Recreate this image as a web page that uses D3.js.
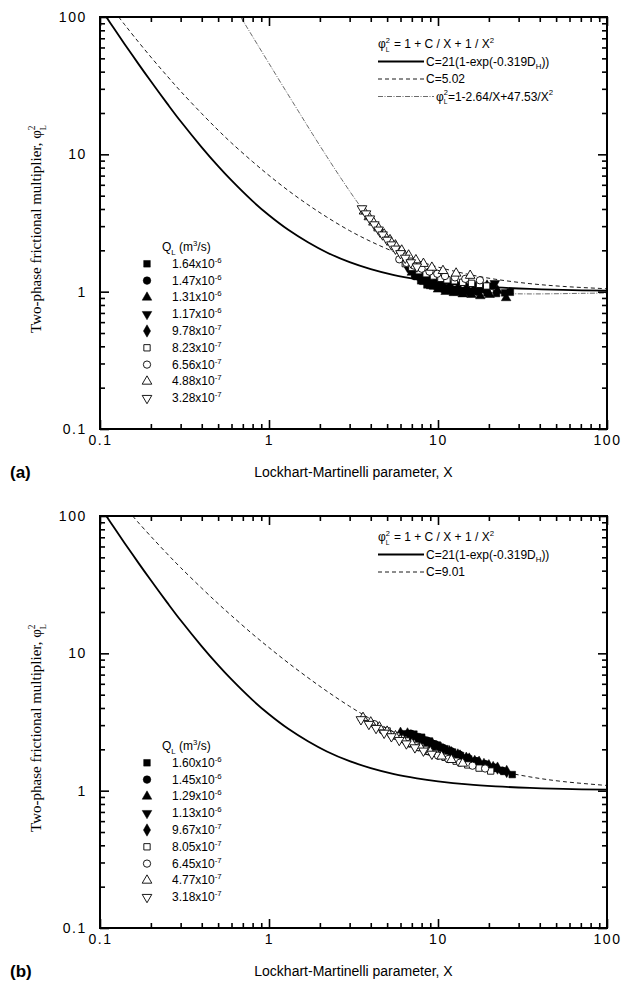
<!DOCTYPE html>
<html><head><meta charset="utf-8">
<script src="https://cdn.jsdelivr.net/npm/d3@7"></script>
<style>body{margin:0;background:#fff} text{white-space:pre}</style>
</head><body>
<svg id="c" width="622" height="986" xmlns="http://www.w3.org/2000/svg"></svg>
<script>
// ---------------- data ----------------
const xMajor = [0.1, 1, 10, 100];
const yMajor = [0.1, 1, 10, 100];
const tickLabels = ["0.1", "1", "10", "100"];

// curves: [X, phi^2]
const solidA = [[0.109,100],[0.12,83.8],[0.14,63.4],[0.17,45.0],[0.2,34.0],[0.25,23.4],[0.3,17.4],[0.4,11.25],[0.5,8.2],[0.6,6.45],[0.8,4.56],[1,3.6],[1.3,2.82],[1.7,2.29],[2.2,1.93],[3,1.64],[4,1.46],[5.5,1.32],[7.5,1.23],[10,1.17],[15,1.11],[22,1.075],[35,1.047],[55,1.029],[100,1.016]];
const dashedA = [[0.129,100],[0.14,87.9],[0.16,71.4],[0.2,51.1],[0.25,37.1],[0.3,28.8],[0.4,19.8],[0.5,15.0],[0.6,12.1],[0.8,8.84],[1,7.02],[1.3,5.45],[1.7,4.30],[2.2,3.49],[3,2.78],[4,2.32],[5.5,1.95],[7.5,1.69],[10,1.51],[15,1.34],[22,1.23],[35,1.144],[55,1.092],[100,1.05]];
const dashdotA = [[0.68,100],[0.75,82.0],[0.85,63.7],[1,45.9],[1.2,31.8],[1.5,20.4],[1.8,14.2],[2.2,9.62],[2.7,6.54],[3.3,4.56],[4,3.31],[5,2.37],[6,1.88],[7.5,1.49],[9,1.29],[11,1.153],[14,1.054],[18,1.0],[25,0.970],[35,0.963],[50,0.966],[70,0.972],[100,0.978]];
const solidB = [[0.109,100],[0.12,83.8],[0.14,63.4],[0.17,45.0],[0.2,34.0],[0.25,23.4],[0.3,17.4],[0.4,11.25],[0.5,8.2],[0.6,6.45],[0.8,4.56],[1,3.6],[1.3,2.82],[1.7,2.29],[2.2,1.93],[3,1.64],[4,1.46],[5.5,1.32],[7.5,1.23],[10,1.17],[15,1.11],[22,1.075],[35,1.047],[55,1.029],[100,1.016]];
const dashedB = [[0.156,100],[0.17,88.6],[0.2,71.05],[0.25,53.0],[0.3,42.1],[0.4,29.8],[0.5,23.0],[0.6,18.8],[0.8,13.8],[1,11.01],[1.3,8.52],[1.7,6.65],[2.2,5.30],[3,4.11],[4,3.32],[5.5,2.67],[7.5,2.22],[10,1.91],[15,1.605],[22,1.41],[35,1.26],[55,1.165],[100,1.091]];

// legend labels
const qA = ["1.64","1.47","1.31","1.17","9.78","8.23","6.56","4.88","3.28"];
const qB = ["1.60","1.45","1.29","1.13","9.67","8.05","6.45","4.77","3.18"];
const qExp = ["-6","-6","-6","-6","-7","-7","-7","-7","-7"];

// panel (a) measured points [X, phi^2]
const a1 = [[7.9,1.2],[8.6,1.12],[9.3,1.1],[10.1,1.06],[10.9,1.04],[11.8,1.02],[12.8,1.0],[14.1,0.98],[15.6,0.99],[17.3,1.0],[19.5,0.98],[22.2,0.97],[24.8,0.98],[26.8,0.99]];
const a2 = [[7.3,1.3],[8.0,1.22],[8.8,1.15],[9.7,1.1],[10.6,1.07],[11.6,1.05],[12.9,1.03],[14.5,1.02],[16.4,1.02],[18.6,1.04],[21.0,1.1]];
const a3 = [[7.0,1.38],[7.6,1.28],[8.3,1.18],[9.1,1.1],[10.0,1.04],[11.1,1.0],[12.4,0.98],[14.0,0.96],[15.8,0.95],[17.8,0.93],[20.2,0.95],[22.5,1.02],[25.3,0.9]];
const a4 = [[6.8,1.45],[7.4,1.35],[8.1,1.25],[8.9,1.17],[9.8,1.12],[10.8,1.08],[12.0,1.05],[13.4,1.03],[15.0,1.02],[17.0,1.02],[19.2,1.05],[21.7,1.15]];
const a5 = [[6.6,1.52],[7.2,1.42],[7.9,1.32],[8.7,1.24],[9.6,1.17],[10.6,1.12],[11.8,1.09],[13.2,1.07],[14.8,1.06],[16.8,1.08],[19.5,1.1]];
const a6 = [[6.4,1.6],[7.0,1.5],[7.7,1.42],[8.5,1.35],[9.4,1.3],[10.4,1.25],[11.3,1.22],[12.5,1.2],[14.0,1.17],[15.8,1.15],[17.6,1.13],[19.4,1.1]];
const a7 = [[5.9,1.72],[6.5,1.62],[7.2,1.55],[8.0,1.47],[8.9,1.4],[9.9,1.35],[11.0,1.3],[12.6,1.27],[14.5,1.24],[17.7,1.21]];
const a8 = [[3.65,3.85],[3.9,3.5],[4.15,3.2],[4.45,2.9],[4.8,2.62],[5.2,2.38],[5.6,2.18],[6.1,2.0],[6.7,1.84],[7.4,1.7],[8.2,1.6],[9.2,1.5],[10.7,1.42],[12.8,1.36],[15.5,1.31]];
const a9 = [[3.55,4.03],[3.75,3.7],[3.95,3.4],[4.2,3.08],[4.45,2.82],[4.7,2.6],[5.0,2.38],[5.3,2.2],[5.6,2.05],[6.0,1.9],[6.4,1.76],[6.9,1.63],[7.5,1.52]];

// panel (b) measured points [X, phi^2]
const b1 = [[7.2,2.58],[8.0,2.45],[8.9,2.3],[9.9,2.15],[11.0,2.02],[12.2,1.91],[13.6,1.8],[15.2,1.7],[17.0,1.61],[19.2,1.53],[21.7,1.45],[24.5,1.38],[27.5,1.31]];
const b2 = [[6.9,2.6],[7.7,2.46],[8.6,2.32],[9.6,2.18],[10.7,2.05],[12.0,1.93],[13.4,1.83],[15.0,1.73],[16.8,1.64],[19.0,1.56],[21.5,1.47],[24.0,1.4]];
const b3 = [[6.6,2.62],[7.4,2.48],[8.3,2.33],[9.3,2.19],[10.4,2.06],[11.7,1.94],[13.1,1.84],[14.7,1.74],[16.5,1.65],[18.7,1.57],[21.2,1.49]];
const b4 = [[6.3,2.62],[7.1,2.48],[8.0,2.34],[9.0,2.2],[10.1,2.07],[11.4,1.95],[12.8,1.85],[14.4,1.75],[16.3,1.66],[18.5,1.57],[20.8,1.49]];
const b5 = [[6.0,2.62],[6.8,2.48],[7.6,2.36],[8.5,2.23],[9.5,2.1],[10.7,1.99],[12.0,1.89],[13.5,1.79],[15.3,1.7],[17.5,1.61],[20.0,1.52],[22.5,1.46],[25.5,1.38]];
const b6 = [[5.0,2.72],[5.7,2.5],[6.5,2.3],[7.4,2.14],[8.4,2.0],[9.6,1.87],[11.0,1.75],[12.8,1.64],[15.0,1.54],[17.5,1.46],[20.5,1.39]];
const b7 = [[4.2,3.05],[4.7,2.75],[5.3,2.55],[6.0,2.38],[6.8,2.2],[7.7,2.07],[8.8,1.93],[10.0,1.8],[11.5,1.7],[13.5,1.6],[16.0,1.52],[19.0,1.45]];
const b8 = [[3.6,3.4],[4.0,3.15],[4.5,2.9],[5.0,2.7],[5.6,2.5],[6.2,2.35],[7.0,2.2],[7.9,2.05],[9.0,1.92],[10.5,1.78],[12.0,1.68],[14.0,1.58]];
const b9 = [[3.5,3.3],[3.9,3.05],[4.3,2.85],[4.8,2.63],[5.3,2.48],[5.9,2.33],[6.5,2.2],[7.3,2.06],[8.2,1.95],[9.2,1.85]];

// ---------------- drawing ----------------
const svg = d3.select("#c");
const FONT = "Arial, 'Liberation Sans', Helvetica, sans-serif";
const SERIF = "'Times New Roman', 'Liberation Serif', serif";

const markerDefs = [
  {type: d3.symbolSquare, size: 44, fill: "#000", rot: 0},
  {type: d3.symbolCircle, size: 46, fill: "#000", rot: 0},
  {type: d3.symbolTriangle, size: 40, fill: "#000", rot: 0},
  {type: d3.symbolTriangle, size: 40, fill: "#000", rot: 180},
  {type: d3.symbolDiamond, size: 44, fill: "#000", rot: 0},
  {type: d3.symbolSquare, size: 40, fill: "#fff", rot: 0},
  {type: d3.symbolCircle, size: 42, fill: "#fff", rot: 0},
  {type: d3.symbolTriangle, size: 40, fill: "#fff", rot: 0},
  {type: d3.symbolTriangle, size: 40, fill: "#fff", rot: 180}
];

function rich(g, x, y, parts, fs, family) {
  let cx = x;
  for (const p of parts) {
    if (p.stack) {
      const t1 = g.append("text").attr("x", cx).attr("y", y - fs * 0.42)
        .style("font-family", family).style("font-size", (fs * 0.62) + "px").text(p.stack[0]);
      const t2 = g.append("text").attr("x", cx).attr("y", y + fs * 0.3)
        .style("font-family", family).style("font-size", (fs * 0.55) + "px").text(p.stack[1]);
      cx += Math.max(t1.node().getComputedTextLength(), t2.node().getComputedTextLength()) + (p.pad || 0);
    } else {
      const size = p.s ? fs * 0.65 : fs;
      const dy = p.s === "sup" ? -fs * 0.42 : (p.s === "sub" ? fs * 0.3 : 0);
      const t = g.append("text").attr("x", cx).attr("y", y + dy)
        .style("font-family", family).style("font-size", size + "px").text(p.t);
      cx += t.node().getComputedTextLength();
    }
  }
  return cx - x;
}

function panel(cfg) {
  const left = 100, right = 607;
  const x = d3.scaleLog().domain([0.1, 100]).range([left, right]);
  const y = d3.scaleLog().domain([0.1, 100]).range([cfg.bottom, cfg.top]);
  const g = svg.append("g");

  const minorX = [], minorY = [];
  for (const d of [0.1, 1, 10]) for (let k = 2; k <= 9; k++) { minorX.push(d * k); minorY.push(d * k); }

  // curves
  const line = d3.line().x(d => x(d[0])).y(d => y(d[1])).curve(d3.curveCatmullRom.alpha(0.5));
  const clip = "clip" + cfg.id;
  svg.append("clipPath").attr("id", clip).append("rect")
    .attr("x", left).attr("y", cfg.top).attr("width", right - left).attr("height", cfg.bottom - cfg.top);
  const cg = g.append("g").attr("clip-path", `url(#${clip})`);
  for (const c of cfg.curves) {
    cg.append("path").datum(c.data).attr("d", line).attr("fill", "none")
      .attr("stroke", c.color).attr("stroke-width", c.w).attr("stroke-dasharray", c.dash || null);
  }

  // data markers
  cfg.series.forEach((s, i) => {
    const m = markerDefs[i];
    const sym = d3.symbol().type(m.type).size(m.size);
    cg.selectAll(null).data(s).enter().append("path")
      .attr("d", sym)
      .attr("transform", d => `translate(${x(d[0])},${y(d[1])}) rotate(${m.rot})`)
      .attr("fill", m.fill).attr("stroke", "#000").attr("stroke-width", m.fill === "#fff" ? 0.9 : 0.5);
  });

  // axes (inward ticks on all sides)
  const makers = [
    [() => d3.axisBottom(x), `translate(0,${cfg.bottom})`, true, true],
    [() => d3.axisTop(x), `translate(0,${cfg.top})`, false, true],
    [() => d3.axisLeft(y), `translate(${left},0)`, true, false],
    [() => d3.axisRight(y), `translate(${right},0)`, false, false]
  ];
  makers.forEach(([mk, tr, lab, isX]) => {
    g.append("g").attr("transform", tr)
      .call(mk().tickValues(isX ? minorX : minorY).tickSize(-5).tickFormat(""))
      .call(s => s.select(".domain").remove())
      .call(s => s.selectAll("line").attr("stroke-width", 1.6));
    const major = g.append("g").attr("transform", tr)
      .call(mk().tickValues(isX ? xMajor : yMajor).tickSize(-9)
        .tickPadding(isX ? 6 : 13)
        .tickFormat(lab ? ((d, i) => tickLabels[i]) : ""))
      .call(s => s.select(".domain").remove())
      .call(s => s.selectAll("line").attr("stroke-width", 1.6));
    major.selectAll("text").style("font-family", FONT).style("font-size", "14px")
      .style("letter-spacing", "1.6px").attr("fill", "#000");
  });
  g.append("rect").attr("x", left).attr("y", cfg.top).attr("width", right - left)
    .attr("height", cfg.bottom - cfg.top).attr("fill", "none").attr("stroke", "#000").attr("stroke-width", 2);

  // x title and panel label
  g.append("text").attr("x", (left + right) / 2).attr("y", cfg.bottom + 48).attr("text-anchor", "middle")
    .style("font-family", FONT).style("font-size", "14px").text("Lockhart-Martinelli parameter, X");
  g.append("text").attr("x", 10).attr("y", cfg.bottom + 49)
    .style("font-family", FONT).style("font-size", "17px").style("font-weight", "bold").text(cfg.label);

  // y title (rotated)
  const yt = g.append("g");
  const w = rich(yt, 0, 0, [{t: "Two-phase frictional multiplier, \u03C6"}, {stack: ["2", "L"]}], 15, SERIF);
  yt.attr("transform", `translate(41,${(cfg.top + cfg.bottom) / 2 + 6}) rotate(-90) translate(${-w / 2},0)`);

  // top-right legend
  const lg = g.append("g");
  const ly = cfg.top + cfg.legendOffset;
  const lx = 378;
  rich(lg, lx, ly + 4, [{t: "\u03C6"}, {stack: ["2", "L"], pad: 4}, {t: "= 1 + C / X + 1 / X"}, {t: "2", s: "sup"}], 12, FONT);
  cfg.legendRows.forEach((r, i) => {
    const ry = ly + 17.5 * (i + 1);
    lg.append("line").attr("x1", lx).attr("x2", lx + r.len).attr("y1", ry).attr("y2", ry)
      .attr("stroke", r.color).attr("stroke-width", r.w).attr("stroke-dasharray", r.dash || null);
    rich(lg, lx + r.len + 2, ry + 4, r.parts, 12, FONT);
  });

  // left legend
  const qg = g.append("g");
  const qy = cfg.top + 230;
  rich(qg, 162, qy + 4, [{t: "Q"}, {t: "L", s: "sub"}, {t: "\u00A0(m"}, {t: "3", s: "sup"}, {t: "/s)"}], 12, FONT);
  cfg.q.forEach((q, i) => {
    const ry = qy + 16.8 * (i + 1);
    const m = markerDefs[i];
    qg.append("path").attr("d", d3.symbol().type(m.type).size(m.size)())
      .attr("transform", `translate(147,${ry}) rotate(${m.rot})`)
      .attr("fill", m.fill).attr("stroke", "#000").attr("stroke-width", m.fill === "#fff" ? 0.9 : 0.5);
    rich(qg, 172, ry + 4, [{t: q + "x10"}, {t: qExp[i], s: "sup"}], 12, FONT);
  });
}

panel({
  id: "a", top: 17, bottom: 429, label: "(a)", legendOffset: 27, q: qA,
  series: [a1, a2, a3, a4, a5, a6, a7, a8, a9],
  curves: [
    {data: solidA, color: "#000", w: 1.8},
    {data: dashedA, color: "#000", w: 0.9, dash: "4,3"},
    {data: dashdotA, color: "#444", w: 0.8, dash: "5,1.5,1,1.5"}
  ],
  legendRows: [
    {len: 46, color: "#000", w: 1.8, parts: [{t: "C=21(1-exp(-0.319D"}, {t: "H", s: "sub"}, {t: "))"}]},
    {len: 46, color: "#000", w: 0.9, dash: "4,3", parts: [{t: "C=5.02"}]},
    {len: 56, color: "#444", w: 0.8, dash: "5,1.5,1,1.5", parts: [{t: "\u03C6"}, {stack: ["2", "L"]}, {t: "=1-2.64/X+47.53/X"}, {t: "2", s: "sup"}]}
  ]
});

panel({
  id: "b", top: 516, bottom: 928, label: "(b)", legendOffset: 21, q: qB,
  series: [b1, b2, b3, b4, b5, b6, b7, b8, b9],
  curves: [
    {data: solidB, color: "#000", w: 1.8},
    {data: dashedB, color: "#000", w: 0.9, dash: "4,3"}
  ],
  legendRows: [
    {len: 46, color: "#000", w: 1.8, parts: [{t: "C=21(1-exp(-0.319D"}, {t: "H", s: "sub"}, {t: "))"}]},
    {len: 46, color: "#000", w: 0.9, dash: "4,3", parts: [{t: "C=9.01"}]}
  ]
});
</script>
</body></html>
